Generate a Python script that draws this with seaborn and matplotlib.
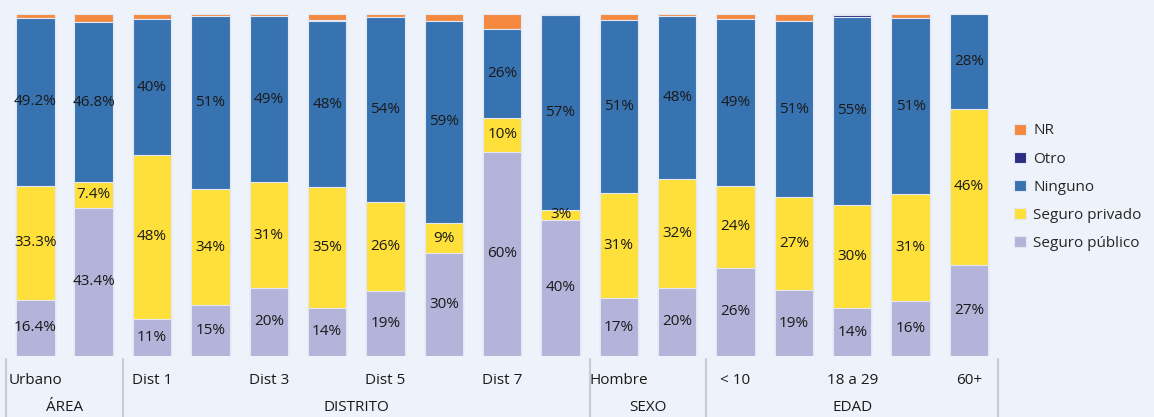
import numpy as np
import pandas as pd
import matplotlib
matplotlib.use("Agg")
import matplotlib.pyplot as plt
import seaborn as sns

# Categorías (solo se rotula una de cada dos, como en el original)
categorias = ["Urbano", "Rural",
              "Dist 1", "Dist 2", "Dist 3", "Dist 4", "Dist 5", "Dist 6", "Dist 7", "Dist 8",
              "Hombre", "Mujer",
              "< 10", "10 a 17", "18 a 29", "30 a 59", "60+"]
grupos = ["ÁREA", "DISTRITO", "SEXO", "EDAD"]
tam_grupos = [2, 8, 2, 5]

# Porcentajes por serie
seguro_publico = [16.4, 43.4, 11, 15, 20, 14, 19, 30, 60, 40, 17, 20, 26, 19, 14, 16, 27]
seguro_privado = [33.3, 7.4, 48, 34, 31, 35, 26, 9, 10, 3, 31, 32, 24, 27, 30, 31, 46]
ninguno = [49.2, 46.8, 40, 51, 49, 48, 54, 59, 26, 57, 51, 48, 49, 51, 55, 51, 28]
otro = [0, 0, 0, 0, 0, 0.3, 0, 0, 0, 0, 0, 0, 0, 0, 0.5, 0, 0]
nr = [1.1, 2.4, 1.5, 0.5, 0.5, 1.8, 0.8, 2.0, 4.5, 0.4, 1.7, 0.6, 1.6, 2.0, 0.3, 1.2, 0]

series = ["Seguro público", "Seguro privado", "Ninguno", "Otro", "NR"]
colores = {
    "Seguro público": "#b4b3d9",
    "Seguro privado": "#ffe03a",
    "Ninguno": "#3873b1",
    "Otro": "#2b2e83",
    "NR": "#f4893f",
}
fondo = "#eef2fa"
tam_letra = 11

sns.set_theme(style="white")
plt.rcParams["font.family"] = ["Open Sans", "DejaVu Sans"]

valores = pd.DataFrame({
    "Seguro público": seguro_publico,
    "Seguro privado": seguro_privado,
    "Ninguno": ninguno,
    "Otro": otro,
    "NR": nr,
}, index=categorias)
valores.index.name = "categoria"

# Gráfico 100% apilado: se normaliza por el total de cada barra
total = valores.sum(axis=1)
acum = valores.cumsum(axis=1).div(total, axis=0) * 100
bases = acum.shift(1, axis=1).fillna(0)

largo = acum.reset_index().melt(id_vars="categoria", var_name="serie", value_name="acum")

fig = plt.figure(figsize=(11.54, 4.17), dpi=100, facecolor=fondo)
ax = fig.add_axes([0.0054, 0.1463, 0.8595, 0.8201])
ax.set_facecolor(fondo)

# barras superpuestas: primero el acumulado total, luego cada capa encima
sns.barplot(data=largo, x="categoria", y="acum", hue="serie",
            order=categorias, hue_order=series[::-1], palette=colores,
            dodge=False, width=0.66, saturation=1, errorbar=None,
            edgecolor="#e2e7f3", linewidth=0.8, ax=ax)

for serie in ["Seguro público", "Seguro privado", "Ninguno"]:
    for i, cat in enumerate(categorias):
        v = valores.loc[cat, serie]
        y = (bases.loc[cat, serie] + acum.loc[cat, serie]) / 2
        txt = f"{v:.1f}%" if i < 2 else f"{v:.0f}%"
        ax.text(i, y, txt, ha="center", va="center", fontsize=tam_letra, color="#1a1a1a")

ax.set_xlim(-0.5, len(categorias) - 0.5)
ax.set_ylim(0, 100)
ax.set_xlabel("")
ax.set_ylabel("")
ax.set_yticks([])
ax.set_xticks(range(len(categorias)))
ax.set_xticklabels([c if i % 2 == 0 else "" for i, c in enumerate(categorias)],
                   fontsize=tam_letra, color="#1a1a1a")
ax.tick_params(axis="x", length=0, pad=12)
sns.despine(ax=ax, left=True, bottom=True)

# separadores y nombres de grupo bajo el eje
trans = ax.get_xaxis_transform()
limites = np.concatenate([[0], np.cumsum(tam_grupos)]) - 0.5
for xl in limites:
    ax.plot([xl, xl], [-0.01, -0.2], transform=trans, color="#c9cdd8",
            lw=1.5, clip_on=False)
for g, a, b in zip(grupos, limites[:-1], limites[1:]):
    ax.text((a + b) / 2, -0.152, g, transform=trans, ha="center", va="center",
            fontsize=tam_letra, color="#1a1a1a")

sns.move_legend(ax, "center left", bbox_to_anchor=(0.879, 0.551),
                bbox_transform=fig.transFigure, frameon=False, title=None,
                handlelength=0.75, handleheight=0.75, handletextpad=0.5,
                labelspacing=0.86, borderpad=0, borderaxespad=0, fontsize=tam_letra)

fig.savefig("out.png", dpi=100, facecolor=fondo)
